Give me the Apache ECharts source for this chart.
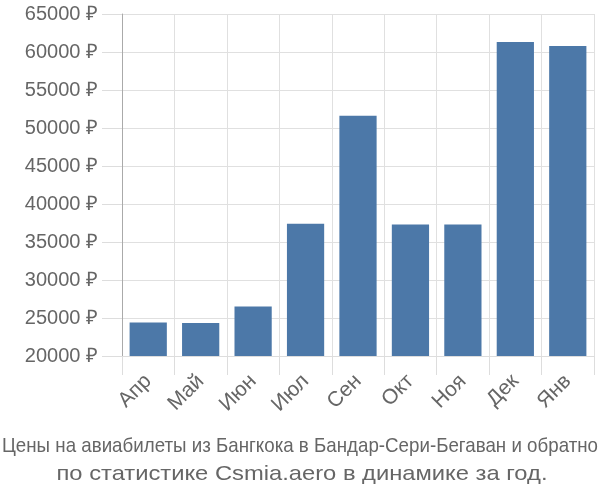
<!DOCTYPE html>
<html>
<head>
<meta charset="utf-8">
<script src="https://cdn.jsdelivr.net/npm/echarts@6/dist/echarts.min.js"></script>
<style>
  html, body { margin: 0; padding: 0; background: #fff; }
  #chart { width: 600px; height: 500px; }
</style>
</head>
<body>
<div id="chart"></div>
<script>
// данные графика
var months = ["Апр", "Май", "Июн", "Июл", "Сен", "Окт", "Ноя", "Дек", "Янв"];
var prices = [24400, 24350, 26500, 37400, 51600, 37300, 37300, 61300, 60800];
var titleLine1 = "Цены на авиабилеты из Бангкока в Бандар-Сери-Бегаван и обратно";
var titleLine2 = "по статистике Csmia.aero в динамике за год.";

var FONT = "Liberation Sans, Arial, sans-serif";

// подгоняем ширину строк подписи под нужную
var ctx = document.createElement("canvas").getContext("2d");
function fitScale(text, size, target) {
  ctx.font = size + "px " + FONT;
  return target / ctx.measureText(text).width;
}

var myChart = echarts.init(document.getElementById("chart"));

var option = {
  animation: false,
  grid: {
    left: 122,
    right: 6,
    top: 14,
    bottom: 144
  },
  xAxis: {
    type: "category",
    data: months,
    axisLine: { show: true, lineStyle: { color: "#dddddd", width: 1 } },
    axisTick: { show: true, length: 19, lineStyle: { color: "#dddddd" } },
    splitLine: { show: true, lineStyle: { color: "#e0e0e0", width: 1 } },
    axisLabel: {
      rotate: 45,
      margin: 22,
      fontSize: 21,
      color: "#666",
      fontFamily: FONT
    }
  },
  yAxis: {
    type: "value",
    min: 20000,
    max: 65000,
    interval: 5000,
    axisLine: { show: true, lineStyle: { color: "#aaaaaa", width: 1 } },
    axisTick: { show: true, length: 20, lineStyle: { color: "#dddddd" } },
    splitLine: { show: true, lineStyle: { color: "#e0e0e0", width: 1 } },
    axisLabel: {
      margin: 24,
      fontSize: 20,
      color: "#666",
      fontFamily: FONT,
      formatter: function (v) { return v + " ₽"; }
    }
  },
  series: [
    {
      type: "bar",
      data: prices,
      barCategoryGap: "29%",
      itemStyle: { color: "#4c78a8" }
    }
  ],
  graphic: [
    {
      type: "text",
      x: 300,
      y: 436,
      scaleX: fitScale(titleLine1, 21, 596),
      style: {
        text: titleLine1,
        align: "center",
        verticalAlign: "top",
        fontSize: 21,
        fill: "#666",
        fontFamily: FONT
      }
    },
    {
      type: "text",
      x: 302,
      y: 464,
      scaleX: fitScale(titleLine2, 21, 491),
      style: {
        text: titleLine2,
        align: "center",
        verticalAlign: "top",
        fontSize: 21,
        fill: "#666",
        fontFamily: FONT
      }
    }
  ]
};

myChart.setOption(option);
</script>
</body>
</html>
